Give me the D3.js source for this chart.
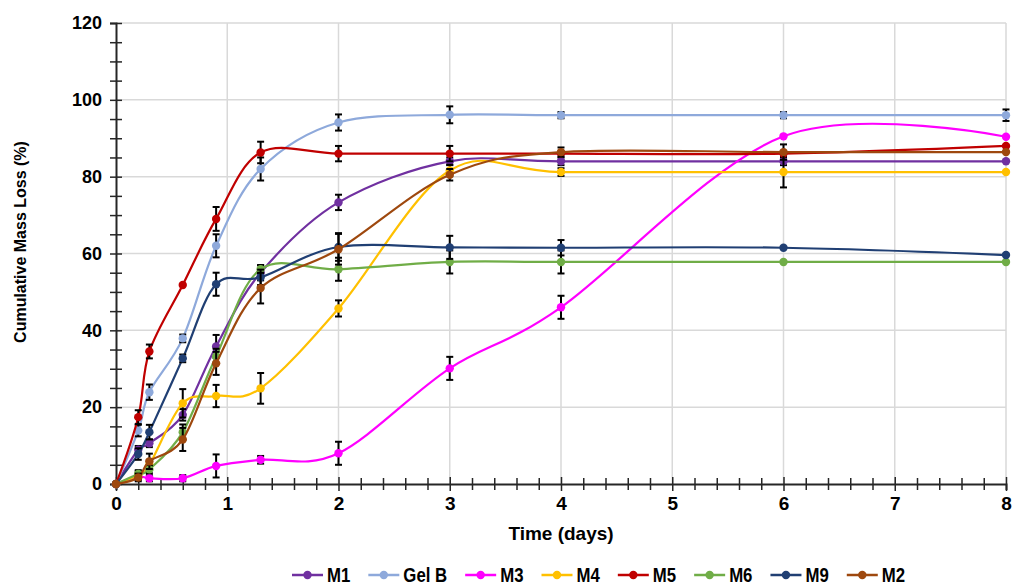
<!DOCTYPE html>
<html>
<head>
<meta charset="utf-8">
<script src="https://cdn.jsdelivr.net/npm/d3@7"></script>
<style>
  html, body { margin: 0; padding: 0; background: #fff; }
  svg { display: block; }
  .narrow { font-family: "Liberation Sans Narrow", "Arial Narrow", "Liberation Sans", Arial, sans-serif; font-weight: bold; }
</style>
</head>
<body>
<svg id="chart" width="1014" height="587"></svg>
<script>
// ---- data ----
const time = [0, 0.2, 0.3, 0.6, 0.9, 1.3, 2, 3, 4, 6, 8];
const seriesNames = ["M1", "Gel B", "M3", "M4", "M5", "M6", "M9", "M2"];
const seriesColors = ["#7030A0", "#8EA9DB", "#FF00FF", "#FFC000", "#C00000", "#70AD47", "#203F73", "#9E480E"];
const M1 =   [0, 8.9, 10.6, 18.0, 35.8, 55.0, 73.3, 84.0, 84.0, 84.0, 84.0];
const GelB = [0, 13.9, 23.9, 37.9, 62.0, 82.0, 94.1, 96.1, 96.0, 96.0, 96.0];
const M3 =   [0, 1.9, 1.5, 1.5, 4.7, 6.3, 8.0, 30.1, 46.0, 90.5, 90.4];
const M4 =   [0, 2.3, 5.0, 21.0, 22.9, 24.9, 45.7, 81.6, 81.2, 81.2, 81.2];
const M5 =   [0, 17.4, 34.5, 51.8, 69.0, 86.3, 86.0, 86.0, 86.0, 86.0, 88.0];
const M6 =   [0, 2.6, 3.8, 13.5, 33.2, 55.9, 55.9, 57.8, 57.8, 57.8, 57.8];
const M9 =   [0, 7.8, 13.5, 32.7, 52.0, 53.8, 61.7, 61.6, 61.5, 61.5, 59.6];
const M2 =   [0, 1.7, 5.9, 11.6, 31.4, 51.0, 61.1, 80.5, 86.4, 86.4, 86.4];
const M1err =   [0, 1, 1, 1.5, 3, 2, 2, 1, 1, 1, 0];
const GelBerr = [0, 1.5, 2, 1, 3, 3, 2.1, 2.2, 0.8, 0.8, 1.5];
const M3err =   [0, 0.8, 0.8, 0.8, 3, 1, 3, 3, 3, 0, 0];
const M4err =   [0, 1, 1, 3.7, 2.9, 4, 2.1, 1.5, 1, 4, 0];
const M5err =   [0, 1.8, 1.8, 0, 3.1, 2.8, 2, 2, 0, 0, 0];
const M6err =   [0, 1, 1, 2, 2, 1, 3, 3, 3, 0, 0];
const M9err =   [0, 1.5, 1.9, 1, 3, 2, 3.6, 3, 2, 0, 0];
const M2err =   [0, 1, 2, 3, 3, 4, 4, 1.5, 1.2, 2, 0];
const seriesValues = [M1, GelB, M3, M4, M5, M6, M9, M2];
const seriesErrors = [M1err, GelBerr, M3err, M4err, M5err, M6err, M9err, M2err];
const xTicks = [0, 1, 2, 3, 4, 5, 6, 7, 8];
const yTicks = [0, 20, 40, 60, 80, 100, 120];

// ---- layout ----
const svg = d3.select("#chart");
const x = d3.scaleLinear().domain([0, 8]).range([116, 1006]);
const y = d3.scaleLinear().domain([0, 120]).range([484, 23]);

// grid
const grid = svg.append("g");
grid.selectAll("line.h").data(yTicks.filter(d => d > 0)).join("line")
  .attr("x1", x(0)).attr("x2", x(8)).attr("y1", d => y(d)).attr("y2", d => y(d))
  .attr("stroke", "#d9d9d9").attr("stroke-width", 1.5);
grid.selectAll("line.v").data(xTicks.filter(d => d > 0)).join("line")
  .attr("x1", d => x(d)).attr("x2", d => x(d)).attr("y1", y(0)).attr("y2", y(120))
  .attr("stroke", "#d9d9d9").attr("stroke-width", 1.5);

// axes
const axisColor = "#262626";
const yAxis = svg.append("g").attr("transform", `translate(${x(0)},0)`)
  .call(d3.axisLeft(y).tickValues(d3.range(0, 121, 5)).tickSize(6).tickFormat(d => yTicks.includes(d) ? d : ""));
yAxis.select(".domain").attr("stroke", axisColor).attr("stroke-width", 2);
yAxis.selectAll(".tick line").attr("stroke", axisColor).attr("stroke-width", 1.5).attr("x1", 6).attr("x2", -6);
yAxis.selectAll(".tick text").attr("x", -14).attr("font-family", "Liberation Sans, Arial, sans-serif")
  .attr("font-weight", "bold").attr("font-size", 18).attr("fill", "#000");

const xAxis = svg.append("g").attr("transform", `translate(0,${y(0)})`)
  .call(d3.axisBottom(x).tickValues(d3.range(0, 8.01, 0.2).map(v => +v.toFixed(1))).tickSize(6)
    .tickFormat(d => Number.isInteger(d) ? d : ""));
xAxis.select(".domain").attr("stroke", axisColor).attr("stroke-width", 2);
xAxis.selectAll(".tick line").attr("stroke", axisColor).attr("stroke-width", 1.5)
  .attr("y1", d => Number.isInteger(d) ? -7 : -6).attr("y2", d => Number.isInteger(d) ? 7 : 6);
xAxis.selectAll(".tick text").attr("y", 13).attr("class", "narrow").attr("font-size", 19).attr("fill", "#000");

// axis titles
svg.append("text").attr("class", "narrow").attr("x", 561).attr("y", 540).attr("text-anchor", "middle")
  .attr("font-size", 19).text("Time (days)");
svg.append("text").attr("transform", "translate(26,242) rotate(-90)").attr("text-anchor", "middle")
  .attr("font-family", "Liberation Sans, Arial, sans-serif").attr("font-weight", "bold").attr("font-size", 16)
  .text("Cumulative Mass Loss (%)");

// series
const line = d3.line().x(d => x(d.t)).y(d => y(d.v)).curve(d3.curveCardinal.tension(0));
seriesNames.forEach((name, i) => {
  const pts = time.map((t, j) => ({ t, v: seriesValues[i][j], e: seriesErrors[i][j] }));
  const g = svg.append("g");
  g.append("path").datum(pts).attr("d", line).attr("fill", "none")
    .attr("stroke", seriesColors[i]).attr("stroke-width", 2.2);
  const eb = g.selectAll("g.err").data(pts.filter(p => p.e > 0)).join("g");
  eb.append("line").attr("x1", p => x(p.t)).attr("x2", p => x(p.t))
    .attr("y1", p => y(p.v - p.e)).attr("y2", p => y(p.v + p.e)).attr("stroke", "#000").attr("stroke-width", 2);
  eb.append("line").attr("x1", p => x(p.t) - 3.5).attr("x2", p => x(p.t) + 3.5)
    .attr("y1", p => y(p.v + p.e)).attr("y2", p => y(p.v + p.e)).attr("stroke", "#000").attr("stroke-width", 2);
  eb.append("line").attr("x1", p => x(p.t) - 3.5).attr("x2", p => x(p.t) + 3.5)
    .attr("y1", p => y(p.v - p.e)).attr("y2", p => y(p.v - p.e)).attr("stroke", "#000").attr("stroke-width", 2);
  g.selectAll("circle").data(pts).join("circle")
    .attr("cx", p => x(p.t)).attr("cy", p => y(p.v)).attr("r", 4.2).attr("fill", seriesColors[i]);
});

// legend
const legend = svg.append("g");
let lx = 292;
const ly = 575;
const squeeze = 0.84;
seriesNames.forEach((name, i) => {
  const g = legend.append("g");
  g.append("line").attr("x1", lx).attr("x2", lx + 31).attr("y1", ly).attr("y2", ly)
    .attr("stroke", seriesColors[i]).attr("stroke-width", 2.5);
  g.append("circle").attr("cx", lx + 15.5).attr("cy", ly).attr("r", 4.2).attr("fill", seriesColors[i]);
  const t = g.append("text").attr("class", "narrow")
    .attr("transform", `translate(${lx + 35},${ly + 7}) scale(${squeeze},1)`)
    .attr("font-size", 20).text(name);
  const w = t.node().getComputedTextLength() * squeeze;
  lx += 35 + w + 18;
});
</script>
</body>
</html>
